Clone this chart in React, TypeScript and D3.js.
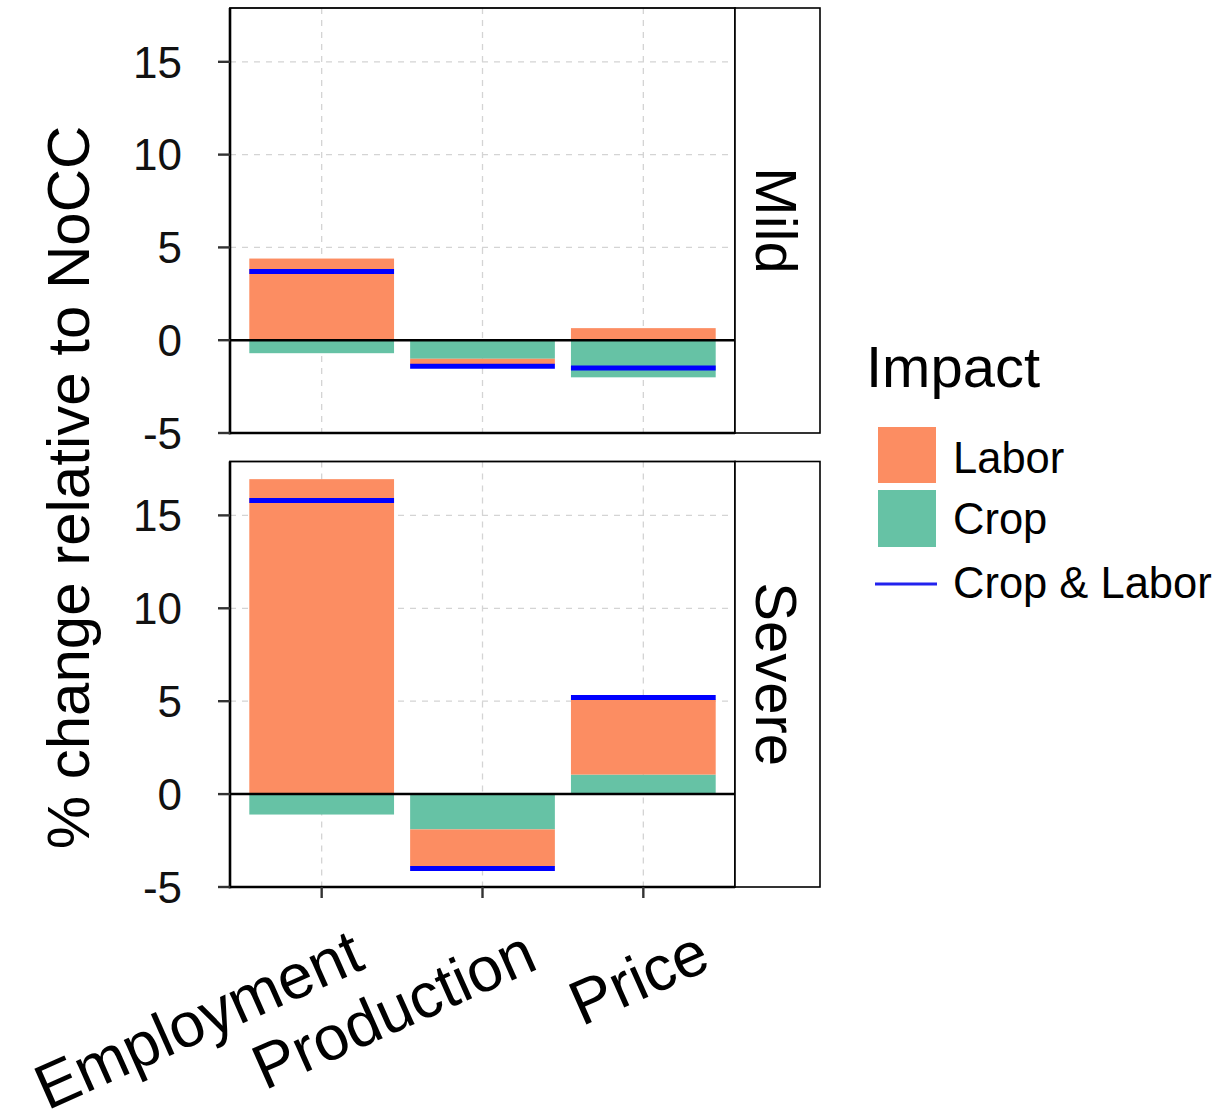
import React from "react";
import * as d3 from "d3";

// Categories, facets and series
const categories = ["Employment", "Production", "Price"];
const scenarios = ["Mild", "Severe"];
const laborMild = [4.4, -0.3, 0.65];
const cropMild = [-0.7, -1.0, -2.0];
const combinedMild = [3.7, -1.4, -1.5];
const laborSevere = [16.95, -2.0, 4.05];
const cropSevere = [-1.1, -1.9, 1.05];
const combinedSevere = [15.8, -4.0, 5.2];
const yTicks = [-5, 0, 5, 10, 15];
const legendTitle = "Impact";
const legendLabels = ["Labor", "Crop", "Crop & Labor"];
const yTitle = "% change relative to NoCC";

const FONT = "'Liberation Sans', Arial, Helvetica, sans-serif";
const LABOR = "#FC8D62";
const CROP = "#66C2A5";
const BOTH = "#0000FF";

const W = 1216;
const H = 1114;
const panelLeft = 230;
const panelRight = 735;
const stripRight = 820;
const panels = [
  { top: 8, bottom: 433 },
  { top: 461.5, bottom: 887 },
];

const seriesByScenario = [
  { labor: laborMild, crop: cropMild, combined: combinedMild },
  { labor: laborSevere, crop: cropSevere, combined: combinedSevere },
];

const x = d3.scalePoint<string>().domain(categories).range([panelLeft, panelRight]).padding(0.57);
const step = x.step();
const barW = step * 0.9;
// end points of the slanted category labels
const labelX = d3.scalePoint<string>().domain(categories).range([367, 713]);

function Panel({ index }: { index: number }) {
  const { top, bottom } = panels[index];
  const y = d3.scaleLinear().domain([-5, 17.9]).range([bottom, top]);
  const s = seriesByScenario[index];
  const rows = categories.map((c, i) => ({ category: c, crop: s.crop[i], labor: s.labor[i] }));
  const stacked = d3.stack<any>().keys(["crop", "labor"]).offset(d3.stackOffsetDiverging)(rows);
  const colorOf: Record<string, string> = { crop: CROP, labor: LABOR };
  const isLast = index === panels.length - 1;
  const midY = (top + bottom) / 2;

  return (
    <g>
      {/* grid */}
      {yTicks.map((t) => (
        <line key={"gy" + t} x1={panelLeft} x2={panelRight} y1={y(t)} y2={y(t)}
          stroke="#d4d4d4" strokeWidth={1.3} strokeDasharray="6,6" />
      ))}
      {categories.map((c) => (
        <line key={"gx" + c} x1={x(c)} x2={x(c)} y1={top} y2={bottom}
          stroke="#d4d4d4" strokeWidth={1.3} strokeDasharray="6,6" />
      ))}
      {/* stacked bars */}
      {stacked.map((layer) =>
        layer.map((d, i) => (
          <rect key={layer.key + i}
            x={(x(categories[i]) as number) - barW / 2}
            width={barW}
            y={y(Math.max(d[0], d[1]))}
            height={Math.abs(y(d[0]) - y(d[1]))}
            fill={colorOf[layer.key]} />
        ))
      )}
      {/* combined impact */}
      {s.combined.map((v, i) => (
        <line key={"c" + i}
          x1={(x(categories[i]) as number) - barW / 2}
          x2={(x(categories[i]) as number) + barW / 2}
          y1={y(v)} y2={y(v)} stroke={BOTH} strokeWidth={5} />
      ))}
      {/* zero line */}
      <line x1={panelLeft} x2={panelRight} y1={y(0)} y2={y(0)} stroke="#000" strokeWidth={2.5} />
      {/* panel border */}
      <rect x={panelLeft} y={top} width={panelRight - panelLeft} height={bottom - top}
        fill="none" stroke="#000" strokeWidth={1.8} />
      {/* axes */}
      <line x1={panelLeft} x2={panelLeft} y1={top} y2={bottom + 1.2} stroke="#000" strokeWidth={2.6} />
      <line x1={panelLeft - 1.3} x2={panelRight} y1={bottom} y2={bottom} stroke="#000" strokeWidth={2.6} />
      {yTicks.map((t) => (
        <g key={"yt" + t}>
          <line x1={panelLeft - 12} x2={panelLeft} y1={y(t)} y2={y(t)} stroke="#333" strokeWidth={2.4} />
          <text x={182} y={y(t)} dy="0.36em" textAnchor="end" fontSize={44} fontFamily={FONT} fill="#111">
            {t}
          </text>
        </g>
      ))}
      {isLast &&
        categories.map((c) => (
          <line key={"xt" + c} x1={x(c)} x2={x(c)} y1={bottom} y2={bottom + 11} stroke="#333" strokeWidth={2.4} />
        ))}
      {/* strip */}
      <rect x={panelRight} y={top} width={stripRight - panelRight} height={bottom - top}
        fill="#fff" stroke="#000" strokeWidth={1.6} />
      <text transform={`translate(${756},${midY}) rotate(90)`} textAnchor="middle"
        fontSize={58} fontFamily={FONT} fill="#000">
        {scenarios[index]}
      </text>
    </g>
  );
}

export default function App() {
  return (
    <svg width={W} height={H} style={{ position: "absolute", left: 0, top: 0, background: "#fff" }}>
      <rect x={0} y={0} width={W} height={H} fill="#fff" />
      {panels.map((_, i) => (
        <Panel key={i} index={i} />
      ))}
      {/* x labels */}
      {categories.map((c) => (
        <text key={"xl" + c}
          transform={`translate(${labelX(c)},${968}) rotate(-24)`}
          textAnchor="end" fontSize={63} fontFamily={FONT} fill="#000">
          {c}
        </text>
      ))}
      {/* y title */}
      <text transform={`translate(${89},${487.5}) rotate(-90)`} textAnchor="middle"
        fontSize={60} fontFamily={FONT} fill="#000">
        {yTitle}
      </text>
      {/* legend */}
      <g>
        <text x={866} y={387} fontSize={58} fontFamily={FONT} fill="#000">{legendTitle}</text>
        <rect x={878} y={427} width={58} height={56} fill={LABOR} />
        <rect x={878} y={490} width={58} height={57} fill={CROP} />
        <line x1={875} x2={937} y1={584} y2={584} stroke="#2222ee" strokeWidth={3} />
        {legendLabels.map((l, i) => (
          <text key={l} x={953} y={[473, 534, 598][i]} fontSize={43.5} fontFamily={FONT} fill="#000">{l}</text>
        ))}
      </g>
    </svg>
  );
}
